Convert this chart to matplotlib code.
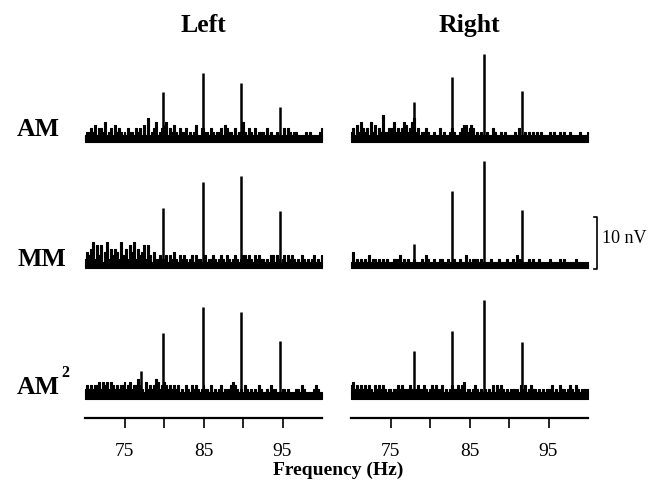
import numpy as np
import matplotlib
matplotlib.use("Agg")
import matplotlib.pyplot as plt

plt.rcParams['font.family'] = ['Liberation Serif', 'DejaVu Serif']

# spectrum bins: 70 to 100 Hz in 0.25 Hz steps, noise floor coded as digits (0.65 nV per step)
freq = np.arange(121) * 0.25 + 70.0
noise_step = 0.65

noise = {
    ('AM', 'Left'): "23343524436234253432" "32433243425272346234" "56243532433423235224"
                    "43324323342543324233" "63243242333242322322" "242432332222323222234",
    ('AM', 'Right'): "34253643426352438334" "34634346534673423343" "22322423223432234553"
                     "45423232232243223232" "22232422323232323222" "232322323223222232223",
    ('MM', 'Left'): "35468374725836465384" "46375836457374253343" "34243532434323424332"
                    "34233432343243234323" "44343243433232442432" "342434323243232342324",
    ('MM', 'Right'): "25232323242332323232" "22333423232232223243" "22322332232232232242"
                     "32333232222322232223" "22324332223232232222" "232222323222223222222",
    ('AM2', 'Left'): "34343445354535434344" "53453446432534346534" "54343434232432434323"
                     "43324232342333454323" "24323232432232433222" "332322233243222234322",
    ('AM2', 'Right'): "45343434343243434323" "32334343334323433432" "34343342323433434523"
                      "32343232323242434323" "23333243423433232323" "334232433234324323333",
}

# response peaks (Hz, nV)
peaks = {
    ('AM', 'Left'): ([79.9, 84.9, 89.8, 94.7], [9.7, 13.5, 11.5, 6.7]),
    ('AM', 'Right'): ([78.0, 82.8, 86.8, 91.6], [7.8, 12.6, 17.2, 9.8]),
    ('MM', 'Left'): ([79.9, 84.9, 89.8, 94.7], [11.9, 17.0, 18.1, 11.2]),
    ('MM', 'Right'): ([78.0, 82.8, 86.8, 91.6], [4.8, 15.1, 21.0, 11.4]),
    ('AM2', 'Left'): ([77.1, 79.9, 84.9, 89.8, 94.7], [5.3, 12.8, 17.9, 16.9, 11.2]),
    ('AM2', 'Right'): ([78.0, 82.8, 86.8, 91.6], [9.3, 13.2, 19.2, 11.0]),
}

rows = ['AM', 'MM', 'AM2']
cols = ['Left', 'Right']
major_ticks = [75, 85, 95]
minor_ticks = [80, 90]

W, H = 665, 480
fig = plt.figure(figsize=(W / 100, H / 100), dpi=100)


def fx(px):
    return px / W


def fy(py):
    return 1 - py / H


col_x = {'Left': (85, 322), 'Right': (351, 588)}
row_base = {'AM': 141.5, 'MM': 268.5, 'AM2': 398.5}
ax_h = 115  # pixels for 22.5 nV

axes = {}
for r in rows:
    for c in cols:
        x0, x1 = col_x[c]
        ax = fig.add_axes([fx(x0), fy(row_base[r]), (x1 - x0) / W, ax_h / H])
        ax.set_xlim(70, 100)
        ax.set_ylim(0, 22.5)
        ax.axis('off')
        h = np.array([int(d) for d in noise[(r, c)]]) * noise_step
        ax.fill_between(freq, 0, h, step='mid', color='k', lw=0.8, clip_on=False)
        pf, ph = peaks[(r, c)]
        ax.vlines(pf, 0, ph, color='k', lw=1.8)
        axes[(r, c)] = ax

# frequency axes under each column
for c in cols:
    x0, x1 = col_x[c]
    bx = fig.add_axes([fx(x0), fy(418), (x1 - x0) / W, 1 / H])
    bx.set_xlim(70, 100)
    bx.set_yticks([])
    for s in ['left', 'right', 'top']:
        bx.spines[s].set_visible(False)
    bx.spines['bottom'].set_linewidth(1.6)
    bx.set_xticks(major_ticks)
    bx.set_xticks(minor_ticks, minor=True)
    bx.tick_params(axis='x', which='both', direction='out', length=7, width=1.2, pad=11)
    bx.tick_params(axis='x', which='major', labelsize=14)
    bx.patch.set_visible(False)

# column titles
for c in cols:
    x0, x1 = col_x[c]
    fig.text(fx((x0 + x1) / 2), fy(32), c, ha='center', va='baseline',
             fontsize=18.5, fontweight='bold')

# row labels
fig.text(fx(17), fy(136), 'AM', ha='left', va='baseline', fontsize=18.5, fontweight='bold')
fig.text(fx(17), fy(266), 'MM', ha='left', va='baseline', fontsize=18.5, fontweight='bold')
fig.text(fx(17), fy(394), 'AM', ha='left', va='baseline', fontsize=18.5, fontweight='bold')
fig.text(fx(61), fy(377), '2', ha='left', va='baseline', fontsize=11.5, fontweight='bold')

fig.text(fx(338), fy(475), 'Frequency (Hz)', ha='center', va='baseline',
         fontsize=14, fontweight='bold')

# 10 nV scale bar next to the right MM trace
sax = axes[('MM', 'Right')]
sax.plot([100.75, 101.15, 101.15, 100.75], [10, 10, 0, 0], color='k', lw=1.2, clip_on=False)
sax.text(101.75, 4.9, '10 nV', ha='left', va='baseline', fontsize=13, clip_on=False)

fig.savefig('out.png', dpi=100)
